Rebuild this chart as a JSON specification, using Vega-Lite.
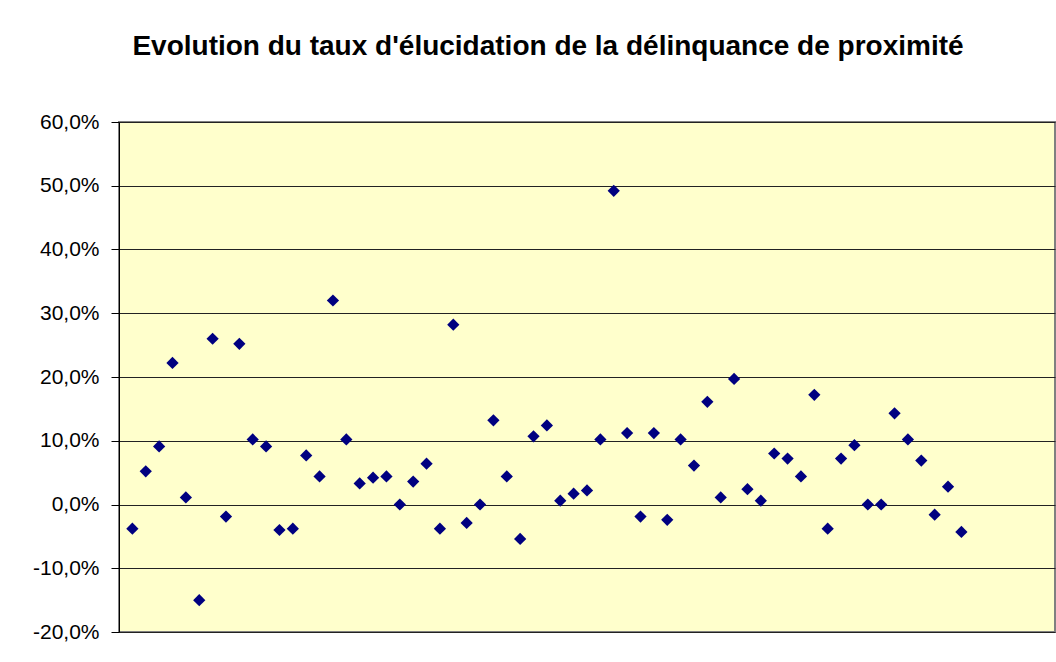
{
  "$schema": "https://vega.github.io/schema/vega-lite/v6.json",
  "autosize": {"type": "none"},
  "padding": {"left": 119, "top": 122, "right": 1, "bottom": 30},
  "width": 936,
  "height": 510,
  "background": "#ffffff",
  "title": {
    "text": "Evolution du taux d'élucidation de la délinquance de proximité",
    "font": "Liberation Sans",
    "fontSize": 28,
    "fontWeight": "bold",
    "color": "#000000",
    "anchor": "middle",
    "baseline": "alphabetic",
    "dx": -39,
    "offset": 28
  },
  "config": {
    "view": {"fill": "#FFFFCC", "stroke": "#808080", "strokeWidth": 2}
  },
  "data": {
    "values": [
      {"n": 1, "taux": -0.038}, {"n": 2, "taux": 0.052}, {"n": 3, "taux": 0.091},
      {"n": 4, "taux": 0.222}, {"n": 5, "taux": 0.011}, {"n": 6, "taux": -0.150},
      {"n": 7, "taux": 0.260}, {"n": 8, "taux": -0.019}, {"n": 9, "taux": 0.252},
      {"n": 10, "taux": 0.102}, {"n": 11, "taux": 0.091}, {"n": 12, "taux": -0.040},
      {"n": 13, "taux": -0.038}, {"n": 14, "taux": 0.077}, {"n": 15, "taux": 0.044},
      {"n": 16, "taux": 0.320}, {"n": 17, "taux": 0.102}, {"n": 18, "taux": 0.033},
      {"n": 19, "taux": 0.042}, {"n": 20, "taux": 0.044}, {"n": 21, "taux": 0.000},
      {"n": 22, "taux": 0.036}, {"n": 23, "taux": 0.064}, {"n": 24, "taux": -0.038},
      {"n": 25, "taux": 0.282}, {"n": 26, "taux": -0.029}, {"n": 27, "taux": 0.000},
      {"n": 28, "taux": 0.132}, {"n": 29, "taux": 0.044}, {"n": 30, "taux": -0.054},
      {"n": 31, "taux": 0.107}, {"n": 32, "taux": 0.124}, {"n": 33, "taux": 0.006},
      {"n": 34, "taux": 0.017}, {"n": 35, "taux": 0.022}, {"n": 36, "taux": 0.102},
      {"n": 37, "taux": 0.492}, {"n": 38, "taux": 0.112}, {"n": 39, "taux": -0.019},
      {"n": 40, "taux": 0.112}, {"n": 41, "taux": -0.024}, {"n": 42, "taux": 0.102},
      {"n": 43, "taux": 0.061}, {"n": 44, "taux": 0.161}, {"n": 45, "taux": 0.011},
      {"n": 46, "taux": 0.197}, {"n": 47, "taux": 0.024}, {"n": 48, "taux": 0.006},
      {"n": 49, "taux": 0.080}, {"n": 50, "taux": 0.072}, {"n": 51, "taux": 0.044},
      {"n": 52, "taux": 0.172}, {"n": 53, "taux": -0.038}, {"n": 54, "taux": 0.072},
      {"n": 55, "taux": 0.093}, {"n": 56, "taux": 0.000}, {"n": 57, "taux": 0.000},
      {"n": 58, "taux": 0.143}, {"n": 59, "taux": 0.102}, {"n": 60, "taux": 0.069},
      {"n": 61, "taux": -0.016}, {"n": 62, "taux": 0.028}, {"n": 63, "taux": -0.043}
    ]
  },
  "mark": {"type": "point", "shape": "diamond", "filled": true, "size": 150, "color": "#000080", "opacity": 1},
  "encoding": {
    "x": {
      "field": "n",
      "type": "quantitative",
      "scale": {"domain": [0, 70], "nice": false, "zero": false},
      "axis": null
    },
    "y": {
      "field": "taux",
      "type": "quantitative",
      "scale": {"domain": [-0.2, 0.6], "nice": false},
      "axis": {
        "title": null,
        "values": [-0.2, -0.1, 0, 0.1, 0.2, 0.3, 0.4, 0.5, 0.6],
        "labelExpr": "replace(replace(format(datum.value, '.1%'), '.', ','), '\u2212', '-')",
        "labelFont": "Liberation Sans",
        "labelFontSize": 21,
        "labelColor": "#000000",
        "labelPadding": 12,
        "tickSize": 8,
        "tickColor": "#000000",
        "domainColor": "#000000",
        "domainWidth": 1,
        "grid": true,
        "gridColor": "#222222",
        "gridWidth": 1
      }
    }
  }
}
